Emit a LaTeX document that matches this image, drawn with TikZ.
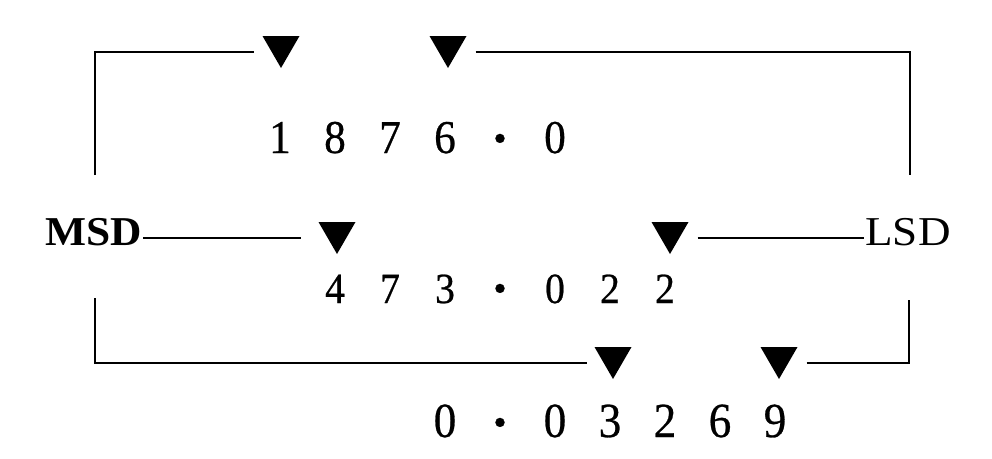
\documentclass[tikz,border=0pt]{standalone}
\usepackage{fontspec}
\setmainfont{Liberation Serif}
\newfontfamily\dgfont{Liberation Serif}[FakeBold=0.6]
\usepackage{graphicx}
\newcommand{\dg}[1]{\makebox[55pt]{\scalebox{0.92}[1]{#1}}}
\newcommand{\dt}{\makebox[55pt]{\raisebox{2pt}{\fontsize{38pt}{38pt}\selectfont\textbullet}}}
\begin{document}
\begin{tikzpicture}[x=1pt,y=-1pt,line width=2.4pt,
  tri/.style={minimum width=37pt,minimum height=32pt,inner sep=0pt,outer sep=0pt,
    path picture={\fill (path picture bounding box.north west) -- (path picture bounding box.north east) -- (path picture bounding box.south) -- cycle;}},
  row/.style={anchor=base,inner sep=0pt},
  lbl/.style={anchor=base,inner sep=0pt,font=\fontsize{41pt}{41pt}\selectfont}]
\useasboundingbox[fill=white] (0,0) rectangle (992,458);
% corners
\coordinate (tlb) at (95,175);
\coordinate (tl) at (95,52);
\coordinate (tr) at (910,52);
\coordinate (trb) at (910,175);
\coordinate (blt) at (95,298);
\coordinate (bl) at (95,363);
\coordinate (br) at (909,363);
\coordinate (brt) at (909,300);
% triangles
\node[tri] (t1) at (281,52) {};
\node[tri] (t2) at (448,52) {};
\node[tri] (t3) at (337,238) {};
\node[tri] (t4) at (670,238) {};
\node[tri] (t5) at (613,363) {};
\node[tri] (t6) at (779,363) {};
% labels
\node[lbl,font=\fontsize{41pt}{41pt}\selectfont\bfseries] (msd) at (94,245) {\scalebox{1.06}[1]{MSD}};
\node[lbl] (lsd) at (908,245) {\scalebox{1.1}[1]{LSD}};
% numbers
\node[row,font=\fontsize{47pt}{47pt}\dgfont] (r1) at (417.5,153) {\dg{1}\dg{8}\dg{7}\dg{6}\dt\dg{0}};
\node[row,font=\fontsize{43pt}{43pt}\dgfont] (r2) at (500,303) {\dg{4}\dg{7}\dg{3}\dt\dg{0}\dg{2}\dg{2}};
\node[row,font=\fontsize{49pt}{49pt}\dgfont] (r3) at (610,437) {\dg{0}\dt\dg{0}\dg{3}\dg{2}\dg{6}\dg{9}};
% connectors
\draw[shorten >=9pt] (tlb) -- (tl) -- (t1.west);
\draw[shorten <=9pt] (t2.east) -- (tr) -- (trb);
\draw[shorten >=18pt] (t3.west -| msd.east) -- (t3.west);
\draw[shorten <=9pt] (t4.east) -- (t4.east -| lsd.west);
\draw[shorten >=8pt] (blt) -- (bl) -- (t5.west);
\draw[shorten <=9pt] (t6.east) -- (br) -- (brt);
\end{tikzpicture}
\end{document}
